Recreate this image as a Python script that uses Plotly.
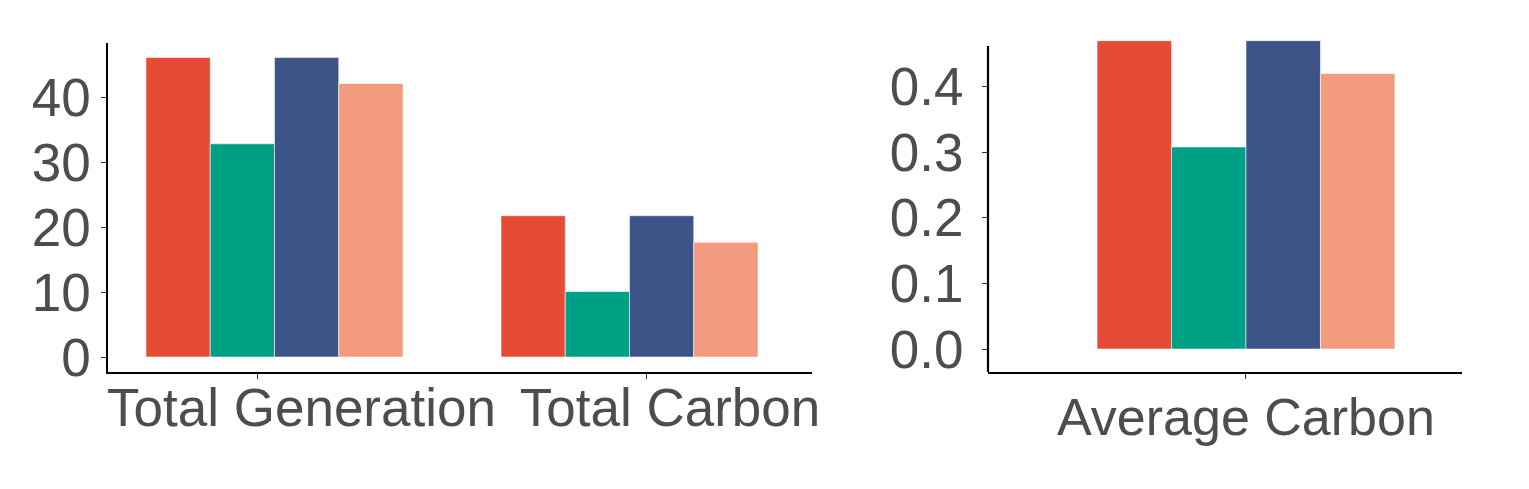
import plotly.graph_objects as go

# ---- data ----
categories_left = ["Total Generation", "Total Carbon"]
categories_right = ["Average Carbon"]
series_names = ["Series A", "Series B", "Series C", "Series D"]
colors = ["#E64B35", "#00A087", "#3C5488", "#F39B7F"]

total_generation = [46.2, 32.9, 46.2, 42.2]
total_carbon = [21.8, 10.1, 21.8, 17.7]
average_carbon = [0.470, 0.308, 0.470, 0.420]

left_yticks = [0, 10, 20, 30, 40]
right_yticks = [0.0, 0.1, 0.2, 0.3, 0.4]

# ---- figure ----
# the page body has an 8px default margin, so the figure is 8px smaller
W, H, OFF = 1521, 481, 8


def px_x(p):
    return (p - OFF) / W


def px_y(p):
    return 1 - (p - OFF) / H


FONT = dict(family="Liberation Sans, Arial, sans-serif", size=53, color="#4D4D4D")
FONT_R = dict(family="Liberation Sans, Arial, sans-serif", size=52, color="#4D4D4D")
fig = go.Figure()

xl = list(range(len(categories_left)))
xr = list(range(len(categories_right)))
for i, name in enumerate(series_names):
    fig.add_trace(go.Bar(
        x=xl, y=[total_generation[i], total_carbon[i]],
        name=name, marker=dict(color=colors[i], line=dict(color="rgba(255,255,255,0.7)", width=0.8)),
        xaxis="x", yaxis="y", showlegend=False,
    ))
    fig.add_trace(go.Bar(
        x=xr, y=[average_carbon[i]],
        name=name, marker=dict(color=colors[i], line=dict(color="rgba(255,255,255,0.7)", width=0.8)),
        xaxis="x2", yaxis="y2", showlegend=False,
    ))

Y2_RANGE = [-0.035, 0.471]

fig.update_layout(
    width=W, height=H,
    margin=dict(l=0, r=0, t=0, b=0, autoexpand=False),
    paper_bgcolor="white", plot_bgcolor="white",
    barmode="group", bargap=0.276, bargroupgap=0,
    font=FONT,
    xaxis=dict(
        domain=[px_x(108), px_x(812)], range=[-0.469, 1.514], anchor="y", automargin=False,
        showline=True, linecolor="black", linewidth=1.5,
        showgrid=False, zeroline=False,
        tickmode="array", tickvals=[0.076, 1.114], ticktext=categories_left,
        ticks="", ticklabelstandoff=-11, tickfont=FONT,
        minor=dict(tickmode="array", tickvals=[-0.0465, 1.0465], ticks="outside",
                   ticklen=5, tickwidth=1.2, tickcolor="#333333", showgrid=False),
    ),
    yaxis=dict(
        domain=[px_y(372), px_y(43)], range=[-2.31, 48.45], anchor="x", automargin=False,
        showline=True, linecolor="black", linewidth=1.5,
        showgrid=False, zeroline=False,
        tickmode="array", tickvals=left_yticks,
        ticks="outside", ticklen=5, tickwidth=1.2, tickcolor="#333333",
        ticklabelstandoff=0, tickfont=FONT,
    ),
    xaxis2=dict(
        domain=[px_x(988), px_x(1462)], range=[-0.627, 0.525], anchor="y2", automargin=False,
        showline=True, linecolor="black", linewidth=2.2,
        showgrid=False, zeroline=False,
        tickmode="array", tickvals=[0], ticktext=categories_right,
        ticks="outside", ticklen=5, tickwidth=1.2, tickcolor="#333333",
        ticklabelstandoff=-7, tickfont=FONT_R,
    ),
    yaxis2=dict(
        domain=[px_y(372), px_y(40)], range=Y2_RANGE, anchor="x2", automargin=False,
        showline=False,
        showgrid=False, zeroline=False,
        tickmode="array", tickvals=right_yticks, tickformat=".1f",
        ticks="outside", ticklen=5, tickwidth=1.2, tickcolor="#333333",
        ticklabelstandoff=8, tickfont=FONT,
    ),
    shapes=[dict(type="line", xref="x2 domain", x0=0, x1=0, yref="y2",
                 y0=Y2_RANGE[0], y1=0.462, line=dict(color="black", width=2.2))],
)

fig.write_html("out.html")
